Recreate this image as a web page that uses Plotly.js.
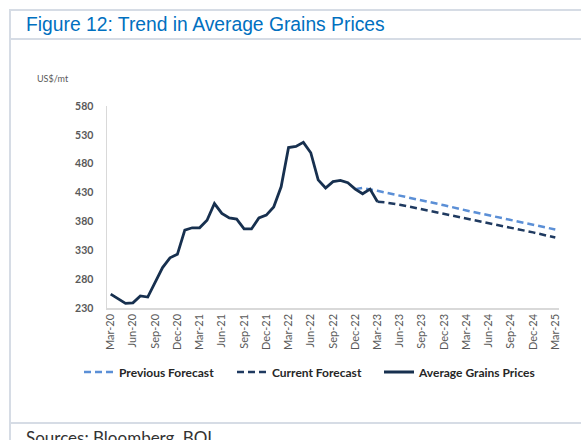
<!DOCTYPE html>
<html>
<head>
<meta charset="utf-8">
<script src="https://cdn.plot.ly/plotly-3.0.1.min.js"></script>
<style>html,body{margin:0;padding:0;background:#fff;}#chart{width:581px;height:440px;}</style>
</head>
<body>
<div id="chart"></div>
<script>
// ---- data ----
const months = ["Mar-20","Apr-20","May-20","Jun-20","Jul-20","Aug-20","Sep-20","Oct-20","Nov-20","Dec-20",
  "Jan-21","Feb-21","Mar-21","Apr-21","May-21","Jun-21","Jul-21","Aug-21","Sep-21","Oct-21","Nov-21","Dec-21",
  "Jan-22","Feb-22","Mar-22","Apr-22","May-22","Jun-22","Jul-22","Aug-22","Sep-22","Oct-22","Nov-22","Dec-22",
  "Jan-23","Feb-23","Mar-23","Apr-23","May-23","Jun-23","Jul-23","Aug-23","Sep-23","Oct-23","Nov-23","Dec-23",
  "Jan-24","Feb-24","Mar-24","Apr-24","May-24","Jun-24","Jul-24","Aug-24","Sep-24","Oct-24","Nov-24","Dec-24",
  "Jan-25","Feb-25","Mar-25"];
const tickLabels = ["Mar-20","Jun-20","Sep-20","Dec-20","Mar-21","Jun-21","Sep-21","Dec-21","Mar-22","Jun-22",
  "Sep-22","Dec-22","Mar-23","Jun-23","Sep-23","Dec-23","Mar-24","Jun-24","Sep-24","Dec-24","Mar-25"];
const actualMonths = months.slice(0, 37);
const actualPrices = [254,246,238,239,251,249,274,300,317,323,
  365,369,369,382,411,394,386,384,367,367,386,391,
  405,440,508,510,517,499,452,438,449,451,447,436,
  428,436,414];
const prevMonths = ["Dec-22","Jan-23","Mar-23","Jun-23","Sep-23","Dec-23","Mar-24","Jun-24","Sep-24","Dec-24","Mar-25"];
const prevForecast = [436,438,433,425,416,408,399,391,383,374,366];
const currMonths = ["Mar-23","Apr-23","Jun-23","Sep-23","Dec-23","Mar-24","Jun-24","Sep-24","Dec-24","Mar-25"];
const currForecast = [414,413,409,401,393,386,378,370,361,352];
const yTicks = [230,280,330,380,430,480,530,580];

// ---- layout geometry (pixels) ----
const L = 107, R = 559, T = 106, B = 308;
const W = R - L, H = B - T;
const px = x => (x - L) / W;
const py = y => (B - y) / H;
const border = '#d6dce5';

const traces = [
  {x: prevMonths, y: prevForecast, name: 'Previous Forecast', type: 'scatter', mode: 'lines', legend: 'legend',
   line: {color: '#5b8fd6', width: 2.5, dash: '7px,4px'}},
  {x: currMonths, y: currForecast, name: 'Current Forecast', type: 'scatter', mode: 'lines', legend: 'legend2',
   line: {color: '#1f3a60', width: 2.5, dash: '7px,4px'}},
  {x: actualMonths, y: actualPrices, name: 'Average Grains Prices', type: 'scatter', mode: 'lines', legend: 'legend3',
   line: {color: '#17304f', width: 2.8}}
];

const legendBase = x => ({orientation: 'h', x: px(x), xanchor: 'left', y: py(372), yanchor: 'middle',
  font: {size: 12, color: '#262626', weight: 'bold'}, bgcolor: 'rgba(0,0,0,0)', itemclick: false});

const layout = {
  width: 581, height: 440,
  margin: {l: L, r: 581 - R, t: T, b: 440 - B, pad: 0},
  paper_bgcolor: '#ffffff', plot_bgcolor: '#ffffff',
  font: {family: 'Lato, "Open Sans", sans-serif', color: '#595959'},
  showlegend: true,
  legend: legendBase(79),
  legend2: legendBase(232),
  legend3: legendBase(379),
  xaxis: {type: 'category', categoryorder: 'array', categoryarray: months,
    range: [-0.5, months.length - 0.5], tickmode: 'array', tickvals: tickLabels, ticktext: tickLabels,
    tickangle: -90, tickfont: {size: 11, color: '#595959'}, showgrid: false, zeroline: false,
    showline: true, linecolor: '#d9d9d9', linewidth: 1.5, ticks: '', ticklen: 0, automargin: false},
  yaxis: {range: [230, 580], tickmode: 'array', tickvals: yTicks, ticktext: yTicks.map(String),
    tickfont: {size: 10.5, color: '#595959', weight: 'bold'}, showgrid: false, zeroline: false,
    showline: true, linecolor: '#d9d9d9', linewidth: 1.5, ticks: '', ticklen: 0, ticklabelstandoff: 10, automargin: false},
  shapes: [
    {type: 'line', xref: 'paper', yref: 'paper', x0: px(10), x1: px(585), y0: py(10), y1: py(10), line: {color: border, width: 2}},
    {type: 'line', xref: 'paper', yref: 'paper', x0: px(10), x1: px(585), y0: py(39), y1: py(39), line: {color: border, width: 2}},
    {type: 'line', xref: 'paper', yref: 'paper', x0: px(10), x1: px(585), y0: py(423), y1: py(423), line: {color: border, width: 2}},
    {type: 'line', xref: 'paper', yref: 'paper', x0: px(10), x1: px(10), y0: py(9), y1: py(445), line: {color: border, width: 2}}
  ],
  annotations: [
    {text: 'Figure 12: Trend in Average Grains Prices', xref: 'paper', yref: 'paper', x: px(24), y: py(24),
     xanchor: 'left', yanchor: 'middle', showarrow: false,
     font: {family: '"Liberation Sans", Arial, sans-serif', size: 19.3, color: '#0070c0'}},
    {text: 'US$/mt', xref: 'paper', yref: 'paper', x: px(35), y: py(78), xanchor: 'left', yanchor: 'middle',
     showarrow: false, font: {size: 9, color: '#595959'}},
    {text: 'Sources: Bloomberg, BOI', xref: 'paper', yref: 'paper', x: px(24), y: py(425), xanchor: 'left', yanchor: 'top',
     showarrow: false, font: {size: 17, color: '#333333'}}
  ]
};

Plotly.newPlot('chart', traces, layout, {displayModeBar: false, staticPlot: true});
</script>
</body>
</html>
